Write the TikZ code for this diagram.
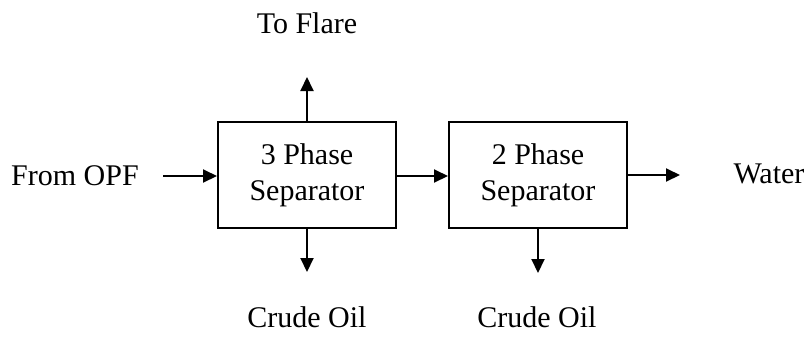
\documentclass[tikz,border=0pt]{standalone}
\usepackage{fontspec}
\setmainfont{Liberation Serif}
\usetikzlibrary{arrows.meta}

\begin{document}
\begin{tikzpicture}[x=0.5pt,y=-0.5pt,
  sepbox/.style={draw,line width=1pt,minimum width=89pt,minimum height=53pt,
    inner sep=0pt,align=center,font=\fontsize{15}{18}\selectfont},
  streamtext/.style={anchor=base,inner sep=0pt,font=\fontsize{15}{18}\selectfont},
  flow/.style={line width=1pt,-{Triangle[length=7pt,width=6.5pt]}}]
\useasboundingbox (0,0) rectangle (810,339);

\node[sepbox] (sep3) at (307,175) {3 Phase\\Separator};
\node[sepbox] (sep2) at (538,175) {2 Phase\\Separator};

\node[streamtext] (flare) at (307,33) {To Flare};
\node[streamtext] (opf) at (75,185) {From OPF};
\node[streamtext] (water) at (769,183) {Water};
\node[streamtext] (oil3) at (307,327) {Crude Oil};
\node[streamtext] (oil2) at (537,327) {Crude Oil};

\coordinate (flareend) at (307,77);
\coordinate (opfstart) at (163,176);
\coordinate (oil3end) at (307,272);
\coordinate (oil2end) at (538,273);
\coordinate (waterend) at (680,175);

\draw[flow] (opfstart) -- (opfstart -| sep3.west);
\draw[flow] (sep3.north) -- (flareend);
\draw[flow] (sep3.south) -- (oil3end);
\draw[flow] (sep3.east |- opfstart) -- (sep2.west |- opfstart);
\draw[flow] (sep2.south) -- (oil2end);
\draw[flow] (sep2.east) -- (waterend);
\end{tikzpicture}
\end{document}
